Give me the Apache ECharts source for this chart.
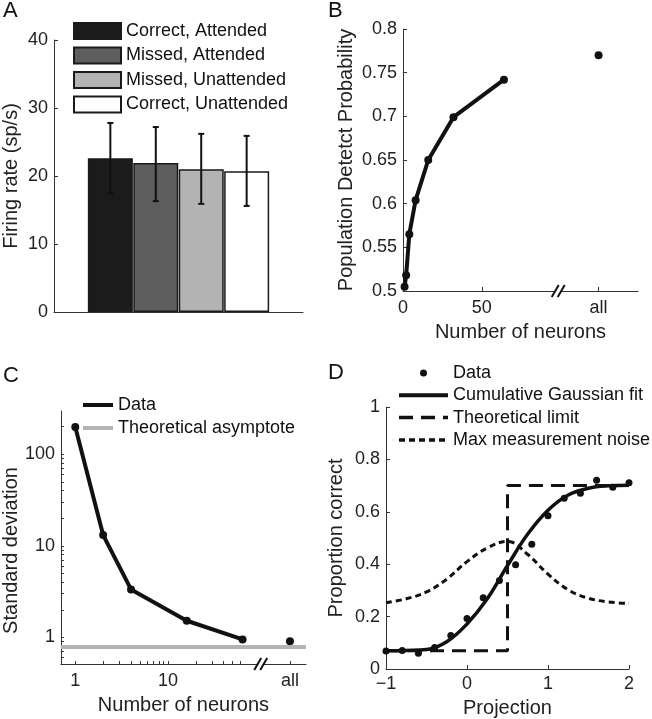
<!DOCTYPE html>
<html>
<head>
<meta charset="UTF-8">
<title>Firing rate and population decoding</title>
<script src="https://cdn.jsdelivr.net/npm/echarts@6.0.0/dist/echarts.min.js"></script>
<style>
  html, body { margin: 0; padding: 0; background: #fff; }
  #main { width: 652px; height: 719px; }
</style>
</head>
<body>
<div id="main"></div>
<script>
// ---- panel A: firing rate per condition
const condNames = ['Correct, Attended', 'Missed, Attended', 'Missed, Unattended', 'Correct, Unattended'];
const rateMean = [22.6, 21.9, 21.0, 20.7];
const rateLow = [17.4, 16.3, 15.9, 15.6];
const rateHigh = [27.8, 27.2, 26.2, 25.9];

// ---- panel B: detect probability vs population size
const neuronsB = [1, 2, 4, 8, 16, 32, 64];
const detectB = [0.505, 0.518, 0.565, 0.604, 0.650, 0.699, 0.742];
const allDetectB = 0.770;
const allTickB = 124;     // where "all" sits on the axis
const breakB = 100;

// ---- panel C: standard deviation vs population size
const neuronsC = [1, 2, 4, 16, 64];
const sdC = [199, 13.1, 3.34, 1.52, 0.95];
const allSdC = 0.91;
const asymptoteC = 0.79;
const allTickC = 208;
const breakC = 107;
const ticksXC = [1, 2, 3, 4, 5, 6, 7, 8, 9, 10, 20, 30, 40, 50, 60, allTickC];
const ticksYC = [0.6, 0.7, 0.8, 0.9, 1, 2, 3, 4, 5, 6, 7, 8, 9, 10, 20, 30, 40, 50, 60, 70, 80, 90, 100, 200];

// ---- panel D: proportion correct vs projection
const projX = [-1, -0.8, -0.6, -0.4, -0.2, 0, 0.2, 0.4, 0.6, 0.8, 1.0, 1.2, 1.4, 1.6, 1.8, 2.0];
const propCorrect = [0.069, 0.071, 0.060, 0.082, 0.128, 0.193, 0.272, 0.338, 0.398, 0.476, 0.585, 0.652, 0.671, 0.720, 0.694, 0.711];
const curveX = [-1, -0.75, -0.5, -0.25, 0, 0.25, 0.5, 0.75, 1.0, 1.25, 1.5, 1.75, 2.0];
const fitY = [0.070, 0.071, 0.074, 0.104, 0.172, 0.268, 0.395, 0.515, 0.606, 0.664, 0.690, 0.699, 0.701];
const noiseY = [0.253, 0.268, 0.294, 0.343, 0.410, 0.462, 0.487, 0.437, 0.362, 0.302, 0.270, 0.256, 0.250];
const limitX = [-1, 0.5, 0.5, 2];
const limitY = [0.07, 0.07, 0.70, 0.70];

const barColors = ['#1b1b1b', '#5e5e5e', '#b3b3b3', '#ffffff'];
const FONT = '"Liberation Sans", Arial, Helvetica, sans-serif';
const INK = '#111';

function pairs(xs, ys) { return xs.map((x, i) => [x, ys[i]]); }

function axis(gridIndex, opts) {
    const base = {
        gridIndex: gridIndex,
        axisLine: { show: true, onZero: false, lineStyle: { color: '#333', width: 1 } },
        axisTick: { show: true, inside: true, length: 4, lineStyle: { color: '#333' } },
        axisLabel: { color: '#222', fontSize: 18, fontFamily: FONT, margin: 6 },
        splitLine: { show: false },
        nameLocation: 'middle',
        nameTextStyle: { color: '#222', fontSize: 20, fontFamily: FONT }
    };
    for (const k in opts) {
        if (base[k] && typeof base[k] === 'object' && typeof opts[k] === 'object' && !Array.isArray(opts[k])) {
            base[k] = Object.assign({}, base[k], opts[k]);
        } else {
            base[k] = opts[k];
        }
    }
    return base;
}

function breakMark(params, api) {
    const cs = params.coordSys;
    const x = api.coord([api.value(0), api.value(1)])[0];
    const y = cs.y + cs.height;
    const st = { stroke: INK, lineWidth: 2 };
    return {
        type: 'group',
        children: [
            { type: 'rect', shape: { x: x - 5, y: y - 2, width: 5, height: 4 }, style: { fill: '#fff' } },
            { type: 'line', shape: { x1: x - 9, y1: y + 6, x2: x - 2, y2: y - 6 }, style: st },
            { type: 'line', shape: { x1: x - 3, y1: y + 6, x2: x + 4, y2: y - 6 }, style: st }
        ]
    };
}

var chart = echarts.init(document.getElementById('main'));

var series = [];
condNames.forEach(function (name, i) {
    series.push({
        name: name, type: 'bar', xAxisIndex: 0, yAxisIndex: 0, stack: 'a', barWidth: 45,
        itemStyle: { color: barColors[i], borderColor: '#1a1a1a', borderWidth: 1.5 },
        data: [[i + 1, rateMean[i]]]
    });
});
series.push({
    type: 'custom', xAxisIndex: 0, yAxisIndex: 0, z: 5,
    encode: { x: 0, y: [1, 2] },
    data: condNames.map((n, i) => [i + 1, rateLow[i], rateHigh[i]]),
    renderItem: function (params, api) {
        const top = api.coord([api.value(0), api.value(2)]);
        const bot = api.coord([api.value(0), api.value(1)]);
        const st = { stroke: INK, lineWidth: 2 };
        return {
            type: 'group',
            children: [
                { type: 'line', shape: { x1: top[0], y1: top[1], x2: bot[0], y2: bot[1] }, style: st },
                { type: 'line', shape: { x1: top[0] - 3, y1: top[1], x2: top[0] + 3, y2: top[1] }, style: st },
                { type: 'line', shape: { x1: bot[0] - 3, y1: bot[1], x2: bot[0] + 3, y2: bot[1] }, style: st }
            ]
        };
    }
});

// B
series.push({
    name: 'B curve', type: 'line', xAxisIndex: 1, yAxisIndex: 1,
    data: pairs(neuronsB, detectB),
    symbol: 'circle', symbolSize: 8,
    lineStyle: { color: INK, width: 4 }, itemStyle: { color: INK, opacity: 1 }
});
series.push({
    name: 'B all', type: 'scatter', xAxisIndex: 1, yAxisIndex: 1,
    data: [[allTickB, allDetectB]], symbolSize: 8, itemStyle: { color: INK, opacity: 1 }
});
series.push({
    type: 'custom', xAxisIndex: 1, yAxisIndex: 1, z: 10, clip: false,
    data: [[breakB, 0.6]], renderItem: breakMark
});

// C
series.push({
    name: 'Theoretical asymptote', type: 'line', xAxisIndex: 2, yAxisIndex: 2,
    data: [], itemStyle: { color: '#b4b4b4' }, lineStyle: { color: '#b4b4b4', width: 4 },
    markLine: {
        silent: true, symbol: ['none', 'none'], label: { show: false },
        lineStyle: { color: '#b4b4b4', width: 4, type: 'solid' },
        data: [{ yAxis: asymptoteC }]
    }
});
series.push({
    name: 'C Data', type: 'line', xAxisIndex: 2, yAxisIndex: 2,
    data: pairs(neuronsC, sdC),
    symbol: 'circle', symbolSize: 8,
    lineStyle: { color: INK, width: 4 }, itemStyle: { color: INK, opacity: 1 }
});
series.push({
    name: 'C all', type: 'scatter', xAxisIndex: 2, yAxisIndex: 2,
    data: [[allTickC, allSdC]], symbolSize: 8, itemStyle: { color: INK, opacity: 1 }
});
series.push({
    type: 'custom', xAxisIndex: 2, yAxisIndex: 2, z: 10, clip: false,
    data: [[breakC, 1]], renderItem: breakMark
});

// D
series.push({
    name: 'Data', type: 'scatter', xAxisIndex: 3, yAxisIndex: 3, z: 4,
    data: pairs(projX, propCorrect), symbolSize: 7, itemStyle: { color: INK, opacity: 1 }
});
series.push({
    name: 'Cumulative Gaussian fit', type: 'line', xAxisIndex: 3, yAxisIndex: 3,
    data: pairs(curveX, fitY), smooth: 0.4, symbol: 'none',
    lineStyle: { color: INK, width: 3.5 }, itemStyle: { color: INK }
});
series.push({
    name: 'Theoretical limit', type: 'line', xAxisIndex: 3, yAxisIndex: 3,
    data: pairs(limitX, limitY), symbol: 'none',
    lineStyle: { color: INK, width: 3, type: [14, 8] }, itemStyle: { color: INK }
});
series.push({
    name: 'Max measurement noise', type: 'line', xAxisIndex: 3, yAxisIndex: 3,
    data: pairs(curveX, noiseY), smooth: 0.4, symbol: 'none',
    lineStyle: { color: INK, width: 3, type: [6, 4] }, itemStyle: { color: INK }
});

var letterStyle = { fontSize: 22, fontWeight: 'normal', color: '#111', fontFamily: FONT };
var noDot = { opacity: 0 };

var option = {
    animation: false,
    backgroundColor: '#fff',
    title: [
        { text: 'A', left: 3, top: 0, padding: 0, textStyle: letterStyle },
        { text: 'B', left: 328, top: 0, padding: 0, textStyle: letterStyle },
        { text: 'C', left: 3, top: 365, padding: 0, textStyle: letterStyle },
        { text: 'D', left: 328, top: 362, padding: 0, textStyle: letterStyle }
    ],
    grid: [
        { left: 54, top: 40, width: 249, height: 272 },
        { left: 403, top: 29, width: 235, height: 262 },
        { left: 51, top: 411, width: 255, height: 253 },
        { left: 386, top: 407, width: 243, height: 262 }
    ],
    legend: [
        {
            data: condNames, orient: 'vertical', left: 73, top: 22, padding: 0,
            itemWidth: 47, itemHeight: 16, itemGap: 6.5, icon: 'rect', selectedMode: false,
            textStyle: { fontSize: 18, fontFamily: FONT, color: '#111', lineHeight: 16 }
        },
        {
            data: ['C Data', 'Theoretical asymptote'], orient: 'vertical', left: 83, top: 396, padding: 0,
            itemWidth: 30, itemHeight: 4, itemGap: 5, icon: 'rect', selectedMode: false,
            formatter: name => name.replace(/^C /, ''),
            textStyle: { fontSize: 18, fontFamily: FONT, color: '#111', lineHeight: 18 }
        },
        {
            data: [
                'Data',
                { name: 'Cumulative Gaussian fit', itemStyle: noDot, lineStyle: { width: 4 } },
                { name: 'Theoretical limit', itemStyle: noDot, lineStyle: { width: 3.5 } },
                { name: 'Max measurement noise', itemStyle: noDot, lineStyle: { width: 3.5 } }
            ],
            orient: 'vertical', left: 397, top: 364, padding: 0,
            itemWidth: 49, itemHeight: 7, itemGap: 4.3, selectedMode: false,
            textStyle: { fontSize: 18, fontFamily: FONT, color: '#111', lineHeight: 18 }
        }
    ],
    xAxis: [
        axis(0, { type: 'value', min: -0.24, max: 5.24, axisLabel: { show: false }, axisTick: { show: false } }),
        axis(1, {
            type: 'value', min: 0, max: 149,
            axisLabel: { customValues: [0, 50, allTickB], margin: 8, formatter: v => v === allTickB ? 'all' : String(v) },
            axisTick: { customValues: [0, 50, allTickB] },
            name: 'Number of neurons', nameGap: 31
        }),
        axis(2, {
            type: 'log', min: 0.7, max: 310,
            axisLabel: { customValues: [1, 10, allTickC], margin: 8, formatter: v => v === allTickC ? 'all' : String(v) },
            axisTick: { customValues: ticksXC, length: 3 },
            name: 'Number of neurons', nameGap: 31
        }),
        axis(3, {
            type: 'value', min: -1, max: 2, interval: 1,
            axisLabel: { formatter: v => v < 0 ? '\u2212' + (-v) : String(v) },
            name: 'Projection', nameGap: 29
        })
    ],
    yAxis: [
        axis(0, { type: 'value', min: 0, max: 40, interval: 10, name: 'Firing rate (sp/s)', nameGap: 33 }),
        axis(1, { type: 'value', min: 0.5, max: 0.8, interval: 0.05, name: 'Population Detetct Probability', nameGap: 47 }),
        axis(2, {
            type: 'log', min: 0.512, max: 297,
            axisLabel: { customValues: [1, 10, 100] },
            axisTick: { customValues: ticksYC, length: 3 },
            name: 'Standard deviation', nameGap: 28,
            nameTextStyle: { padding: [0, 26, 0, 0] }
        }),
        axis(3, { type: 'value', min: 0, max: 1, interval: 0.2, name: 'Proportion correct', nameGap: 40 })
    ],
    series: series
};

chart.setOption(option);
</script>
</body>
</html>
